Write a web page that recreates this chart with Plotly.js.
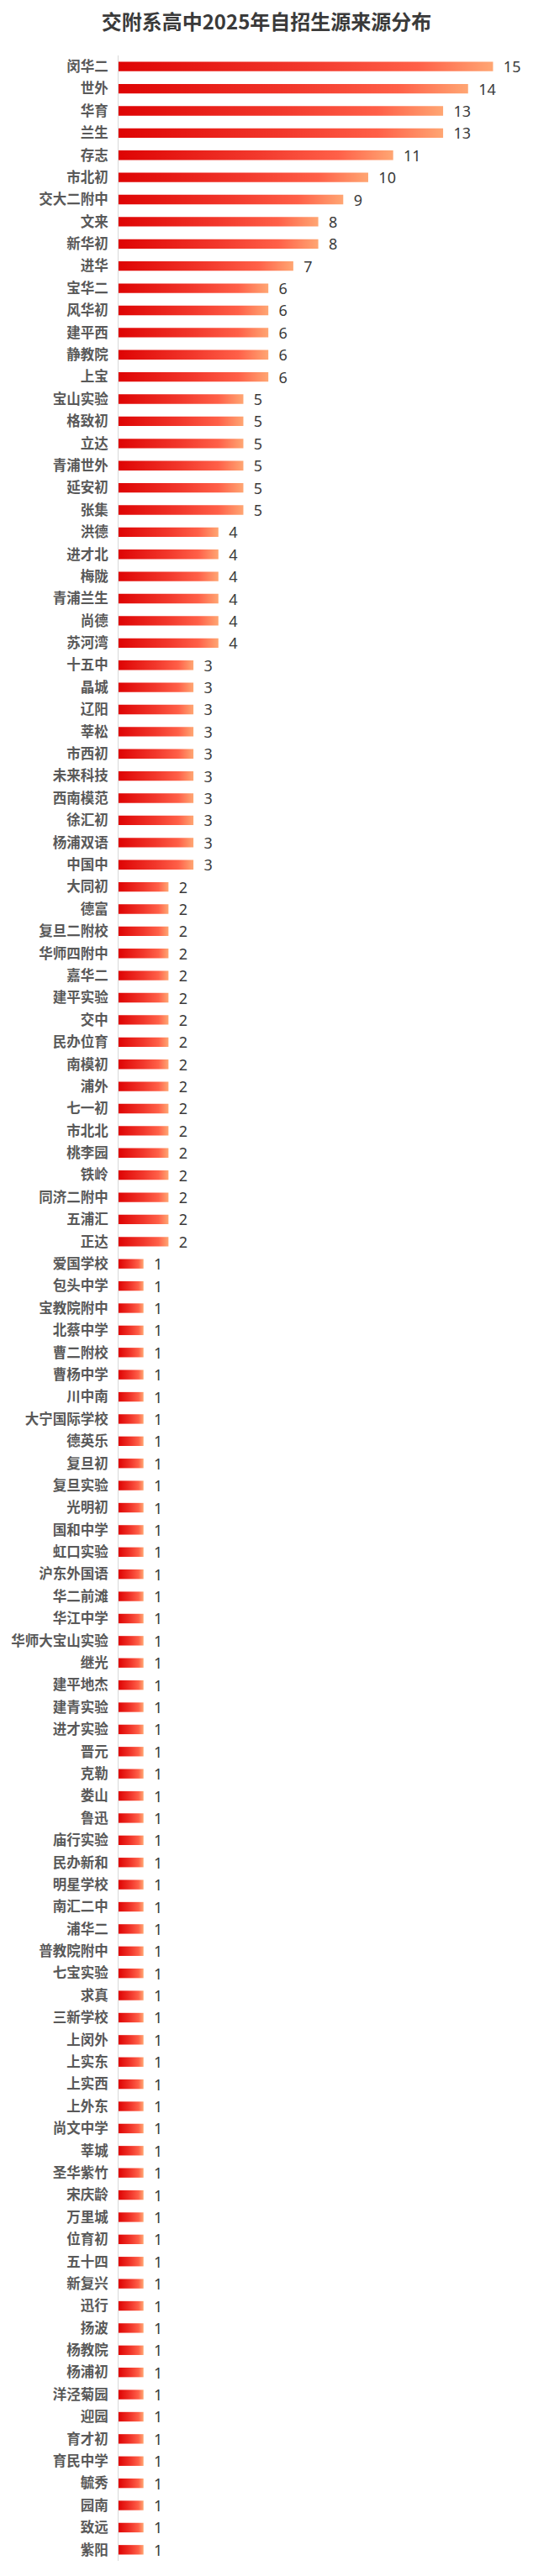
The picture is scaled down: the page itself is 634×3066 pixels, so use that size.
<!DOCTYPE html>
<html>
<head>
<meta charset="utf-8">
<script src="https://cdn.plot.ly/plotly-3.0.1.min.js"></script>
<style>
  html, body { margin: 0; padding: 0; background: #fff; }
  #chart { width: 634px; height: 3066px; }
</style>
</head>
<body>
<div id="chart"></div>
<script>
// School names, top to bottom, and the number of students from each.
const schools15to4 = [
  "闵华二", "世外", "华育", "兰生", "存志", "市北初", "交大二附中", "文来", "新华初", "进华",
  "宝华二", "风华初", "建平西", "静教院", "上宝",
  "宝山实验", "格致初", "立达", "青浦世外", "延安初", "张集",
  "洪德", "进才北", "梅陇", "青浦兰生", "尚德", "苏河湾",
];
const counts15to4 = [
  15, 14, 13, 13, 11, 10, 9, 8, 8, 7,
  6, 6, 6, 6, 6,
  5, 5, 5, 5, 5, 5,
  4, 4, 4, 4, 4, 4,
];

const schools3 = ["十五中", "晶城", "辽阳", "莘松", "市西初", "未来科技", "西南模范", "徐汇初", "杨浦双语", "中国中"];
const counts3 = [3, 3, 3, 3, 3, 3, 3, 3, 3, 3];

const schools2 = [
  "大同初", "德富", "复旦二附校", "华师四附中", "嘉华二", "建平实验", "交中", "民办位育", "南模初",
  "浦外", "七一初", "市北北", "桃李园", "铁岭", "同济二附中", "五浦汇", "正达",
];
const counts2 = [2, 2, 2, 2, 2, 2, 2, 2, 2, 2, 2, 2, 2, 2, 2, 2, 2];

const schools1 = [
  "爱国学校", "包头中学", "宝教院附中", "北蔡中学", "曹二附校", "曹杨中学", "川中南", "大宁国际学校",
  "德英乐", "复旦初", "复旦实验", "光明初", "国和中学", "虹口实验", "沪东外国语", "华二前滩",
  "华江中学", "华师大宝山实验", "继光", "建平地杰", "建青实验", "进才实验", "晋元", "克勒",
  "娄山", "鲁迅", "庙行实验", "民办新和", "明星学校", "南汇二中", "浦华二", "普教院附中",
  "七宝实验", "求真", "三新学校", "上闵外", "上实东", "上实西", "上外东", "尚文中学",
  "莘城", "圣华紫竹", "宋庆龄", "万里城", "位育初", "五十四", "新复兴", "迅行",
  "扬波", "杨教院", "杨浦初", "洋泾菊园", "迎园", "育才初", "育民中学", "毓秀",
  "园南", "致远", "紫阳",
];
const counts1 = [
  1, 1, 1, 1, 1, 1, 1, 1, 1, 1, 1, 1, 1, 1, 1, 1, 1, 1, 1, 1,
  1, 1, 1, 1, 1, 1, 1, 1, 1, 1, 1, 1, 1, 1, 1, 1, 1, 1, 1, 1,
  1, 1, 1, 1, 1, 1, 1, 1, 1, 1, 1, 1, 1, 1, 1, 1, 1, 1, 1,
];

const schools = [...schools15to4, ...schools3, ...schools2, ...schools1];
const counts = [...counts15to4, ...counts3, ...counts2, ...counts1];

const TITLE = "交附系高中2025年自招生源来源分布";
// red -> coral -> peach, each bar gets its own left-to-right gradient
const GRAD_STOPS = [[0, "#de0404"], [0.5, "#f2382c"], [0.8, "#ff6048"], [1, "#ffa673"]];

const trace = {
  type: "bar",
  orientation: "h",
  x: counts,
  y: schools,
  marker: { color: "#e8201a", line: { width: 0 } },
  texttemplate: "\u00A0\u00A0%{x}",
  textposition: "outside",
  constraintext: "none",
  cliponaxis: false,
  textfont: { family: "Noto Sans, sans-serif", size: 18, color: "#3a3a3a" },
  hoverinfo: "skip",
};

const layout = {
  width: 634,
  height: 3066,
  paper_bgcolor: "#ffffff",
  plot_bgcolor: "#ffffff",
  margin: { l: 141, r: 0, t: 66, b: 18 },
  showlegend: false,
  bargap: 0.57,
  font: { family: "Noto Sans CJK SC, sans-serif", color: "#333333" },
  title: {
    text: TITLE,
    font: { family: "Noto Sans CJK SC, sans-serif", size: 24, color: "#3a3a3a", weight: 700 },
    xref: "container", x: 0.5, xanchor: "center",
    yref: "container", y: 1 - 27 / 3066, yanchor: "middle",
  },
  xaxis: {
    range: [0, 16.6],
    visible: false,
    fixedrange: true,
  },
  yaxis: {
    type: "category",
    autorange: "reversed",
    showgrid: false,
    zeroline: false,
    showline: true,
    linecolor: "#d9d9d9",
    linewidth: 1,
    ticks: "outside",
    ticklen: 8,
    tickcolor: "rgba(0,0,0,0)",
    tickfont: { family: "Noto Sans CJK SC, sans-serif", size: 16.5, color: "#595959", weight: 700 },
    fixedrange: true,
  },
};

const CONFIG = { displayModeBar: false, staticPlot: true };

function paintGradient(el) {
  const defs = el.querySelector(".main-svg defs");
  if (!defs) return;
  const ns = "http://www.w3.org/2000/svg";
  if (!defs.querySelector("#barGrad")) {
    const g = document.createElementNS(ns, "linearGradient");
    g.setAttribute("id", "barGrad");
    g.setAttribute("x1", "0"); g.setAttribute("y1", "0");
    g.setAttribute("x2", "1"); g.setAttribute("y2", "0");
    GRAD_STOPS.forEach(([off, col]) => {
      const s = document.createElementNS(ns, "stop");
      s.setAttribute("offset", off);
      s.setAttribute("stop-color", col);
      g.appendChild(s);
    });
    defs.appendChild(g);
  }
  el.querySelectorAll(".barlayer .point path").forEach((p) => {
    p.style.fill = "url(#barGrad)";
  });
}

const el = document.getElementById("chart");
Plotly.newPlot(el, [trace], layout, CONFIG).then(() => paintGradient(el));
</script>
</body>
</html>
